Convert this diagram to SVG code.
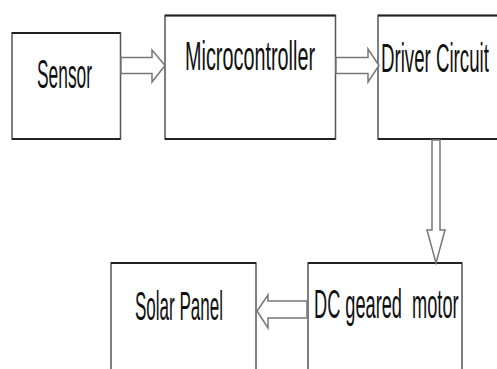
<svg xmlns="http://www.w3.org/2000/svg" width="497" height="369" viewBox="0 0 497 369">
<style>
.box{fill:#fff;stroke:#555;stroke-width:1.5}
.top{stroke:#222;stroke-width:2}
.arr{fill:#fff;stroke:#777;stroke-width:1.5;stroke-linejoin:miter}
.lbl{font-family:"Liberation Sans",Arial,sans-serif;font-size:40px;fill:#111}
</style>
<rect width="497" height="369" fill="#fff"/>
<g id="sensor">
<rect class="box" x="12" y="33" width="108.5" height="106"/>
<line class="top" x1="12" y1="33" x2="120.5" y2="33"/>
<line class="top" x1="12" y1="139" x2="120.5" y2="139"/>
<text class="lbl" transform="translate(37,88) scale(0.434,1)">Sensor</text>
</g>
<g id="microcontroller">
<rect class="box" x="165" y="15.5" width="170.5" height="123.5"/>
<line class="top" x1="165" y1="15.5" x2="335.5" y2="15.5"/>
<line class="top" x1="165" y1="139" x2="335.5" y2="139"/>
<text class="lbl" transform="translate(185,70) scale(0.496,1)">Microcontroller</text>
</g>
<g id="driver">
<rect class="box" x="378" y="15.5" width="130" height="123.5"/>
<line class="top" x1="378" y1="15.5" x2="497" y2="15.5"/>
<line class="top" x1="378" y1="139" x2="497" y2="139"/>
<text class="lbl" transform="translate(381,72) scale(0.467,1)">Driver Circuit</text>
</g>
<g id="motor">
<rect class="box" x="308" y="263" width="154" height="120"/>
<line class="top" x1="308" y1="263" x2="462" y2="263"/>
<text class="lbl" transform="translate(314,318) scale(0.455,1)" xml:space="preserve">DC geared  motor</text>
</g>
<g id="solar">
<rect class="box" x="111" y="263" width="145" height="120"/>
<line class="top" x1="111" y1="263" x2="256" y2="263"/>
<text class="lbl" transform="translate(135,320) scale(0.426,1)">Solar Panel</text>
</g>
<g id="connectors">
<polygon class="arr" points="121,57.5 152,57.5 152,50 165,65.5 152,82 152,73.5 121,73.5"/>
<polygon class="arr" points="336,57.5 368,57.5 368,49 379,65.5 368,82 368,73.5 336,73.5"/>
<polygon class="arr" points="432,140 440,140 440,230 445,230 436,263 427,230 432,230"/>
<polygon class="arr" points="307,301 268,301 268,295 257,311 268,328 268,318 307,318"/>
</g>
</svg>
